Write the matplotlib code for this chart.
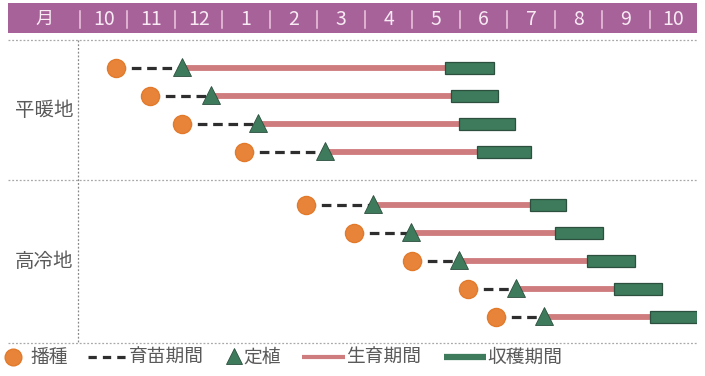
import numpy as np
import matplotlib
matplotlib.use("Agg")
import matplotlib.pyplot as plt

plt.rcParams['font.family'] = ['Noto Sans CJK JP', 'DejaVu Sans']

# ---------------- data (months from start of October) ----------------
month_labels = ['10', '11', '12', '1', '2', '3', '4', '5', '6', '7', '8', '9', '10']
regions = ['平暖地', '高冷地']

sow_warm = [0.75, 1.47, 2.15, 3.46]
plant_warm = [2.15, 2.76, 3.75, 5.16]
harv_start_warm = [7.69, 7.82, 7.99, 8.37]
harv_end_warm = [8.72, 8.81, 9.17, 9.50]

sow_cold = [4.76, 5.77, 6.99, 8.17, 8.77]
plant_cold = [6.17, 6.97, 7.99, 9.19, 9.78]
harv_start_cold = [9.48, 10.01, 10.68, 11.25, 12.01]
harv_end_cold = [10.24, 11.02, 11.69, 12.26, 13.00]

legend_labels = ['播種', '育苗期間', '定植', '生育期間', '収穫期間']

# ---------------- style ----------------
C_ORANGE = '#e8843a'
C_ORANGE_E = '#e27a2c'
C_GREEN = '#3e7b5c'
C_GREEN_E = '#2c4f3e'
C_RED = '#cf7c7e'
C_DASH = '#2e2e2e'
C_PURPLE = '#a8629a'
C_HEAD_TXT = '#f7eaf3'
C_TXT = '#5a5a5a'
C_GRID = '#a8a8a8'

W, H = 705, 376
fig = plt.figure(figsize=(W / 100, H / 100), dpi=100)
fig.patch.set_facecolor('white')

def frac_box(x0, y0, x1, y1):
    return [x0 / W, 1 - y1 / H, (x1 - x0) / W, (y1 - y0) / H]

n_months = len(month_labels)
px_per_month = (697 - 80) / n_months
x_left_ext = -(80 - 8) / px_per_month

# ---------------- header ----------------
hax = fig.add_axes(frac_box(8, 3, 697, 33))
hax.set_xlim(x_left_ext, n_months)
hax.set_ylim(0, 1)
hax.set_facecolor(C_PURPLE)
for s in hax.spines.values():
    s.set_visible(False)
hax.set_xticks([]); hax.set_yticks([])
hax.text((x_left_ext + 0) / 2, 0.47, '月', ha='center', va='center',
         color=C_HEAD_TXT, fontsize=13)
for i, lab in enumerate(month_labels):
    hax.text(i + 0.5, 0.45, lab, ha='center', va='center',
             color=C_HEAD_TXT, fontsize=14)
for i in range(n_months):
    hax.plot([i, i], [0.18, 0.72], color='#ecc9df', lw=1.1)

# ---------------- main chart ----------------
ax = fig.add_axes(frac_box(80, 40, 697, 343))
ax.set_xlim(0, n_months)
ax.set_ylim(10.82, 0)
ax.axis('off')

y_warm = np.arange(len(sow_warm)) + 1.0
divider = len(sow_warm) + 1.0
y_cold = divider + 0.9 + np.arange(len(sow_cold))

# grid / frame lines
for yy in [0, divider, 10.82]:
    ax.plot([x_left_ext, n_months], [yy, yy], color=C_GRID, lw=0.9,
            ls=(0, (1.5, 1.5)), clip_on=False)
ax.plot([-0.04, -0.04], [0, 10.82], color='#888888', lw=0.9,
        ls=(0, (1.5, 1.5)), clip_on=False)

def draw_group(ys, sow, plant, hs, he):
    for y, s, p, a, b in zip(ys, sow, plant, hs, he):
        ax.plot([p, a], [y, y], color=C_RED, lw=4.2, solid_capstyle='butt', zorder=2)
        ax.barh(y, b - a, left=a, height=0.43, color=C_GREEN,
                edgecolor=C_GREEN_E, linewidth=0.9, zorder=3)
        ax.plot([s, p], [y, y], color=C_DASH, lw=2.3, dashes=(3.0, 1.8),
                zorder=2)
        ax.plot(s, y, 'o', ms=13, color=C_ORANGE, mec=C_ORANGE_E, mew=1,
                zorder=4)
        ax.plot(p, y - 0.05, '^', ms=13.5, color=C_GREEN, mec=C_GREEN_E,
                mew=0.6, zorder=4)

draw_group(y_warm, sow_warm, plant_warm, harv_start_warm, harv_end_warm)
draw_group(y_cold, sow_cold, plant_cold, harv_start_cold, harv_end_cold)

ax.text(x_left_ext / 2, y_warm.mean(), regions[0], ha='center', va='center',
        color=C_TXT, fontsize=14, clip_on=False)
ax.text(x_left_ext / 2, y_cold.mean(), regions[1], ha='center', va='center',
        color=C_TXT, fontsize=14, clip_on=False)

# ---------------- legend ----------------
lax = fig.add_axes(frac_box(0, 344, W, 370))
lax.set_xlim(0, W)
lax.set_ylim(1, 0)
lax.axis('off')
ly = 0.5
fs = 13.5
lax.plot(13, ly, 'o', ms=12, color=C_ORANGE, mec=C_ORANGE_E, mew=1)
lax.text(30, ly, legend_labels[0], ha='left', va='center', color=C_TXT, fontsize=fs)
lax.plot([88, 128], [ly, ly], color=C_DASH, lw=2.3, dashes=(2.6, 1.9))
lax.text(129, ly, legend_labels[1], ha='left', va='center', color=C_TXT, fontsize=fs)
lax.plot(234, ly - 0.05, '^', ms=12, color=C_GREEN, mec=C_GREEN_E, mew=0.6)
lax.text(243, ly, legend_labels[2], ha='left', va='center', color=C_TXT, fontsize=fs)
lax.plot([302, 345], [ly, ly], color=C_RED, lw=3.0, solid_capstyle='butt')
lax.text(346, ly, legend_labels[3], ha='left', va='center', color=C_TXT, fontsize=fs)
lax.plot([444, 486], [ly, ly], color=C_GREEN, lw=4.5, solid_capstyle='butt')
lax.text(487, ly, legend_labels[4], ha='left', va='center', color=C_TXT, fontsize=fs)

fig.savefig('out.png', dpi=100, facecolor='white')
